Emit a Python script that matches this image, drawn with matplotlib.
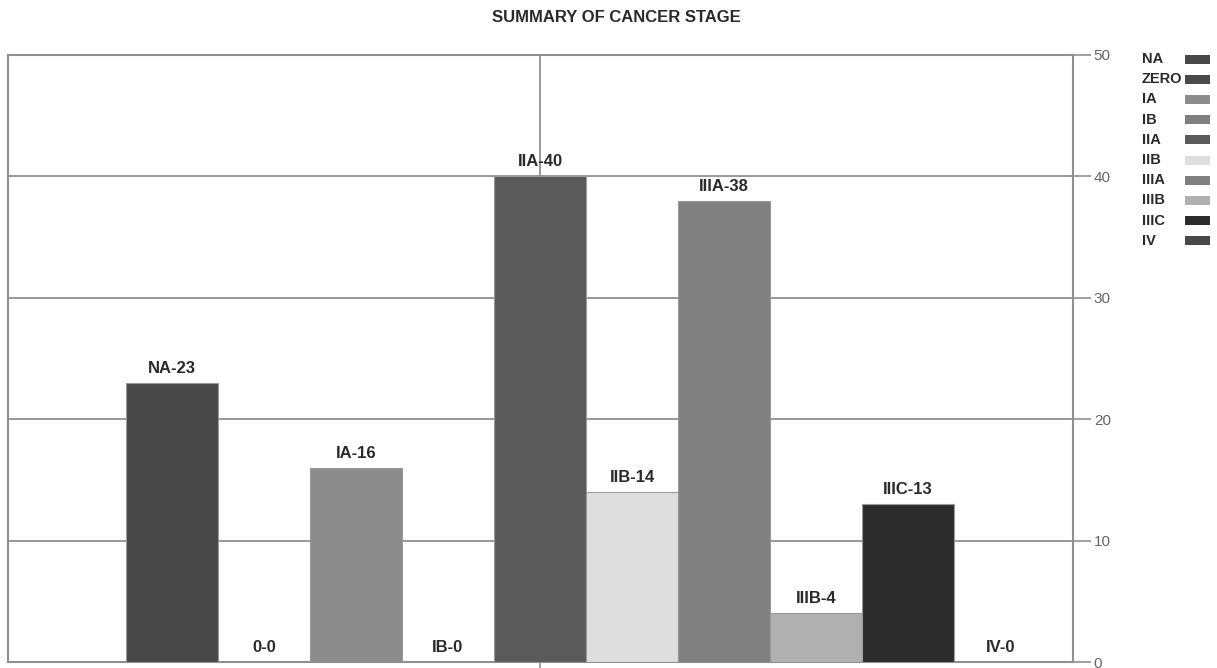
import numpy as np
import matplotlib
matplotlib.use("Agg")
import matplotlib.pyplot as plt
from matplotlib.patches import Rectangle

# cancer stage counts
stages = ["NA", "0", "IA", "IB", "IIA", "IIB", "IIIA", "IIIB", "IIIC", "IV"]
legend_names = ["NA", "ZERO", "IA", "IB", "IIA", "IIB", "IIIA", "IIIB", "IIIC", "IV"]
counts = [23, 0, 16, 0, 40, 14, 38, 4, 13, 0]
colors = ["#484848", "#4a4a4a", "#8c8c8c", "#7f7f7f", "#5a5a5a",
          "#dedede", "#808080", "#b0b0b0", "#2b2b2b", "#484848"]
y_ticks = [0, 10, 20, 30, 40, 50]

FONT = ["Liberation Sans", "DejaVu Sans"]
GRID = "#909090"

fig = plt.figure(figsize=(12.17, 6.68), dpi=100)
W, H = 1217, 668
ax = fig.add_axes([8 / W, 6 / H, (1073 - 8) / W, (662 - 55) / H])

x = np.arange(len(stages))
ax.bar(x, counts, width=1.0, color=colors, edgecolor="#9a9a9a", linewidth=0.8, zorder=3)

# value labels "STAGE-count"
for xi, name, val in zip(x, stages, counts):
    ax.annotate(f"{name}-{val}", (xi, val), xytext=(0, 5), textcoords="offset points",
                ha="center", va="bottom", fontsize=12, fontweight="bold",
                family=FONT, color="#2a2a2a", zorder=4)

ax.set_xlim(-1.78, 9.79)
ax.set_ylim(0, 50)

ax.yaxis.tick_right()
ax.set_yticks(y_ticks)
ax.tick_params(axis="y", direction="out", length=13, width=1.2, color=GRID,
               labelcolor="#666666", labelsize=11, pad=2)
for lab in ax.get_yticklabels():
    lab.set_family(FONT)

# single x tick under the middle divider line
ax.set_xticks([4])
ax.set_xticklabels([""])
ax.tick_params(axis="x", direction="out", length=8, width=1.2, color=GRID)

ax.grid(axis="y", color=GRID, linewidth=1.3, zorder=1)
ax.axvline(4, color=GRID, linewidth=1.3, zorder=1)
for s in ax.spines.values():
    s.set_color(GRID)
    s.set_linewidth(1.5)

fig.text(616 / W, 1 - 18 / H, "SUMMARY OF CANCER STAGE", ha="center", va="center",
         fontsize=12, fontweight="bold", family=FONT, color="#2a2a2a")

# legend drawn by hand so names stay left-aligned and swatches line up
for i, (name, c) in enumerate(zip(legend_names, colors)):
    yc = 1 - (59 + i * 20.2) / H
    fig.text(1142 / W, yc, name, ha="left", va="center", fontsize=10.5,
             fontweight="bold", family=FONT, color="#2a2a2a")
    fig.patches.append(Rectangle((1185 / W, yc - 4.5 / H), 25 / W, 9 / H,
                                 transform=fig.transFigure, facecolor=c,
                                 edgecolor="none"))

fig.savefig("out.png", dpi=100)
